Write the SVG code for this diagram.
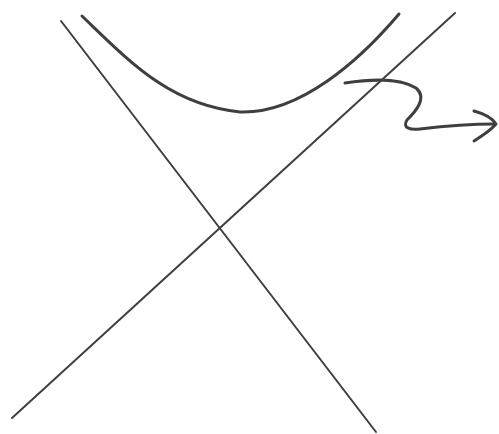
<svg xmlns="http://www.w3.org/2000/svg" width="499" height="434" viewBox="0 0 499 434">
<style>
.ln{fill:none;stroke:#3f3f3f;stroke-linecap:round;stroke-linejoin:round}
.thin{stroke-width:2}
.thick{stroke-width:3}
</style>
<rect width="499" height="434" fill="#ffffff"/>
<g id="connectors">
<path class="ln thin" d="M61,21 L376,432"/>
<path class="ln thin" d="M12,418 L455,13"/>
<path class="ln thick" d="M82,16 C130,62 170,105 240,112 C300,114 360,60 399,14"/>
<path class="ln thick" d="M345,83 C370,79 400,78 416,88 C428,98 415,112 407,120 C402,128 410,130 420,129 C445,126 470,124 495,124"/>
<path class="ln thick" d="M474,111 C485,114 493,119 496,124 C490,131 482,136 474,141"/>
</g>
</svg>
